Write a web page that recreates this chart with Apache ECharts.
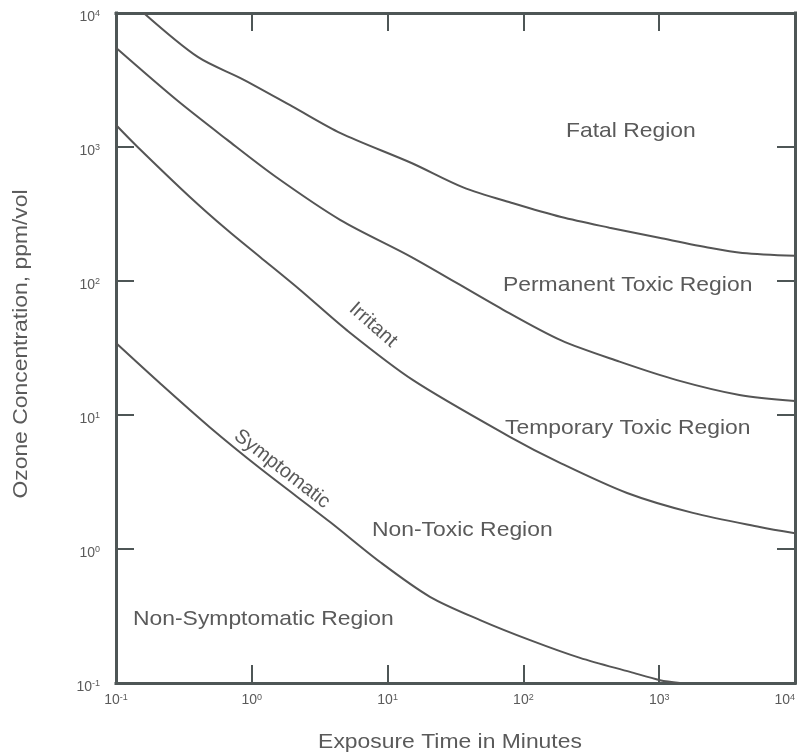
<!DOCTYPE html>
<html>
<head>
<meta charset="utf-8">
<script src="https://cdn.jsdelivr.net/npm/echarts@6/dist/echarts.min.js"></script>
<style>
html,body{margin:0;padding:0;background:#fff;overflow:hidden;}
#c{width:801px;height:753px;}
</style>
</head>
<body>
<div id="c"></div>
<script>
// Tick values (decades) for both log axes
const xTicks = [0.1, 1, 10, 100, 1000, 10000];
const yTicks = [0.1, 1, 10, 100, 1000, 10000];

// Fatal / Permanent Toxic boundary
const fatalX = [0.16, 0.4, 0.86, 2, 4.5, 15, 36, 84, 190, 430, 1000, 2400, 4100, 10000];
const fatalY = [10000, 4700, 3200, 2000, 1270, 760, 500, 380, 300, 250, 210, 176, 162, 154];

// Permanent / Temporary Toxic boundary
const permX = [0.1, 0.28, 0.66, 1.5, 4.5, 15, 71, 190, 510, 1350, 3900, 10000];
const permY = [5500, 2240, 1130, 600, 285, 151, 61, 36, 25, 18.2, 14.1, 12.7];

// Irritant line
const irrX = [0.1, 0.143, 0.35, 0.66, 1.15, 2.26, 5.0, 15.4, 80, 186, 580, 1770, 5500, 10000];
const irrY = [1460, 1010, 424, 240, 151, 86, 43, 18.2, 6.85, 4.4, 2.62, 1.86, 1.46, 1.31];

// Symptomatic line
const symX = [0.1, 0.21, 0.49, 1.15, 3.77, 8.8, 20.5, 48, 112, 261, 610, 1014, 1420];
const symY = [34.4, 17.3, 8.1, 4.0, 1.59, 0.8, 0.44, 0.295, 0.209, 0.154, 0.121, 0.105, 0.1];

const regionLabels = ["Fatal Region", "Permanent Toxic Region", "Temporary Toxic Region", "Non-Toxic Region", "Non-Symptomatic Region"];
const lineLabels = ["Irritant", "Symptomatic"];
const xAxisName = "Exposure Time in Minutes";
const yAxisName = "Ozone Concentration, ppm/vol";

const AX = '#4e5656';
const TXT = '#5a5a5a';
const FONT = '"Liberation Sans", Arial, Helvetica, sans-serif';
const FS = 21, SX = 1.09;

function pairs(xs, ys){ return xs.map((x,i)=>[x, ys[i]]); }
function powLabel(v){
  const e = Math.round(Math.log10(v));
  return '{b|10}{s|' + e + '}';
}
const rich = {
  b:{fontSize:14, color:TXT, fontFamily:FONT},
  s:{fontSize:9, color:TXT, fontFamily:FONT, verticalAlign:'top', padding:[0,0,6,0]}
};

function logAxis(extra){
  return Object.assign({
    type:'log', logBase:10, min:0.1, max:10000,
    axisLine:{show:true, lineStyle:{color:AX, width:3, cap:'square'}},
    axisTick:{show:true, inside:true, length:18, lineStyle:{color:AX, width:2}},
    minorTick:{show:false},
    splitLine:{show:false},
  }, extra);
}

const chart = echarts.init(document.getElementById('c'), null, {renderer:'canvas'});
const lineStyle = {color:'#555', width:2};
function lineSeries(name, xs, ys){
  return {name, type:'line', data:pairs(xs, ys), smooth:0.3, showSymbol:false, symbol:'none',
    lineStyle, clip:true, silent:true, z:3};
}
function txt(text, x, y, rot, align){
  return {type:'text', x, y, rotation:rot||0, scaleX:SX, scaleY:1, originX:0, originY:0,
    style:{text, fontSize:FS, fill:TXT, fontFamily:FONT, align:align||'left', verticalAlign:'middle'}};
}

chart.setOption({
  animation:false,
  backgroundColor:'#fff',
  grid:{left:116, top:13, right:6, bottom:70, containLabel:false, outerBoundsMode:'none'},
  xAxis:[
    logAxis({position:'bottom',
      axisLabel:{show:true, margin:10, formatter:powLabel, rich, customValues:xTicks, alignMaxLabel:'right'}}),
    logAxis({position:'top', axisLabel:{show:false}})
  ],
  yAxis:[
    logAxis({position:'left',
      axisLabel:{show:true, margin:16, formatter:powLabel, rich, customValues:yTicks, padding:[8,0,0,0]}}),
    logAxis({position:'right', axisLabel:{show:false}})
  ],
  series:[
    lineSeries('Fatal', fatalX, fatalY),
    lineSeries('Permanent', permX, permY),
    lineSeries('Irritant', irrX, irrY),
    lineSeries('Symptomatic', symX, symY)
  ],
  graphic:[
    txt(regionLabels[0], 566, 131),
    txt(regionLabels[1], 503, 285),
    txt(regionLabels[2], 505, 428),
    txt(regionLabels[3], 372, 530),
    txt(regionLabels[4], 133, 619),
    {type:'text', x:373, y:325, rotation:-0.726, style:{text:lineLabels[0], fontSize:20, fill:TXT, fontFamily:FONT, align:'center', verticalAlign:'middle'}},
    {type:'text', x:282, y:469, rotation:-0.66, style:{text:lineLabels[1], fontSize:20, fill:TXT, fontFamily:FONT, align:'center', verticalAlign:'middle'}},
    {type:'text', x:450, y:742, scaleX:SX, style:{text:xAxisName, fontSize:FS, fill:TXT, fontFamily:FONT, align:'center', verticalAlign:'middle'}},
    {type:'text', x:21, y:344, rotation:Math.PI/2, scaleX:SX, style:{text:yAxisName, fontSize:FS, fill:TXT, fontFamily:FONT, align:'center', verticalAlign:'middle'}}
  ]
});
</script>
</body>
</html>
